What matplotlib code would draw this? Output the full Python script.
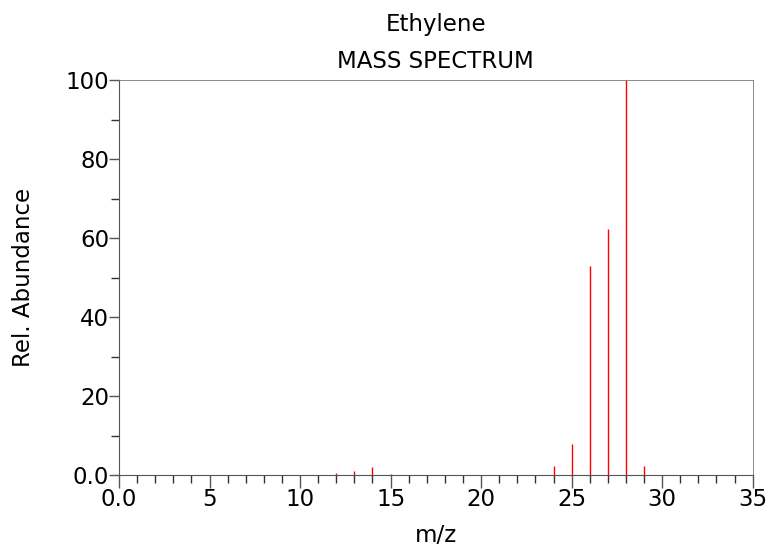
import matplotlib

matplotlib.use("Agg")
import matplotlib.pyplot as plt
from matplotlib.ticker import FixedLocator, MultipleLocator

# Ethylene mass spectrum
mz = [12, 13, 14, 15, 24, 25, 26, 27, 28, 29, 30]
abundance = [0.5, 0.9, 2.1, 0.2, 2.3, 7.8, 53.0, 62.3, 100.0, 2.2, 0.1]

x_ticks = [0, 5, 10, 15, 20, 25, 30, 35]
x_labels = ["0.0", "5", "10", "15", "20", "25", "30", "35"]
y_ticks = [0, 20, 40, 60, 80, 100]
y_labels = ["0.0", "20", "40", "60", "80", "100"]

FS = 16.5

fig = plt.figure(figsize=(7.68, 5.46), dpi=100)
ax = fig.add_axes([0.155, 0.130, 0.825, 0.723])

ax.vlines(mz, 0, abundance, color="red", linewidth=1.0)

ax.set_xlim(0, 35)
ax.set_ylim(0, 100)
ax.xaxis.set_major_locator(FixedLocator(x_ticks))
ax.set_xticklabels(x_labels)
ax.xaxis.set_minor_locator(MultipleLocator(1))
ax.yaxis.set_major_locator(FixedLocator(y_ticks))
ax.set_yticklabels(y_labels)
ax.yaxis.set_minor_locator(MultipleLocator(10))

ax.tick_params(which="major", direction="out", length=9, width=1, color="#555555",
               labelsize=FS, pad=0)
ax.tick_params(which="minor", direction="out", length=6, width=1, color="#333333")
ax.tick_params(axis="y", which="major", length=7)
for side in ["left", "bottom"]:
    ax.spines[side].set_color("#555555")
for side in ["top", "right"]:
    ax.spines[side].set_color("#777777")
    ax.spines[side].set_linewidth(0.6)

ax.set_xlabel("m/z", fontsize=FS, labelpad=10)
ax.set_ylabel("Rel. Abundance", fontsize=FS, labelpad=22)
ax.set_title("Ethylene\nMASS SPECTRUM", fontsize=FS, linespacing=1.78, pad=9)

fig.savefig("out.png", dpi=100)
